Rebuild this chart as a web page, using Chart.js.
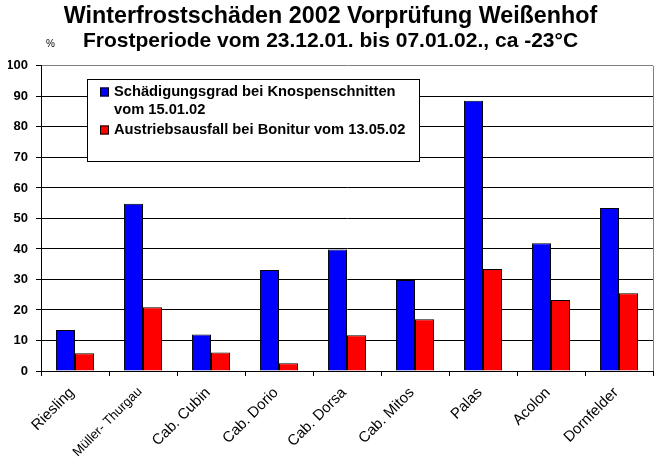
<!DOCTYPE html>
<html>
<head>
<meta charset="utf-8">
<script src="https://cdn.jsdelivr.net/npm/chart.js@4/dist/chart.umd.min.js"></script>
<style>
  body { margin: 0; background: #fff; }
  #wrap { width: 661px; height: 469px; }
</style>
</head>
<body>
<div id="wrap"><canvas id="frostchart"></canvas></div>
<script>
// Data
var sorten = ["Riesling", "Müller- Thurgau", "Cab. Cubin", "Cab. Dorio", "Cab. Dorsa", "Cab. Mitos", "Palas", "Acolon", "Dornfelder"];
var knospen = [13.4, 54.8, 12.0, 33.1, 39.8, 29.8, 88.6, 41.9, 53.4]; // Schädigungsgrad
var austrieb = [5.8, 20.9, 6.1, 2.5, 11.7, 17.0, 33.4, 23.3, 25.5]; // Austriebsausfall
var legendKnospen = ["Schädigungsgrad bei Knospenschnitten", "vom 15.01.02"];
var legendAustrieb = ["Austriebsausfall bei Bonitur vom 13.05.02"];

var FONT = "'Liberation Sans', Arial, sans-serif";

// legend box inside the plot, plus the "%" mark and the grey frame on the right
var extras = {
  id: "extras",
  afterDraw: function(chart) {
    var c = chart.ctx;
    var area = chart.chartArea;
    c.save();
    // grey right border of plot area
    c.strokeStyle = "#808080";
    c.lineWidth = 1;
    c.beginPath();
    c.moveTo(Math.round(area.right) + 0.5, area.top);
    c.lineTo(Math.round(area.right) + 0.5, area.bottom);
    c.stroke();

    // % unit
    c.fillStyle = "#000";
    c.font = "10px " + FONT;
    c.textAlign = "left";
    c.textBaseline = "middle";
    c.fillText("%", 46, 44);

    // legend
    var bx = 87, by = 79, bw = 332, bh = 82;
    c.fillStyle = "#fff";
    c.fillRect(bx, by, bw, bh);
    c.strokeStyle = "#000";
    c.strokeRect(bx + 0.5, by + 0.5, bw, bh);
    var items = [legendKnospen, legendAustrieb];
    var ys = [92, 130];
    c.font = "bold 14.7px " + FONT;
    items.forEach(function(lines, i) {
      var ds = chart.data.datasets[i];
      c.fillStyle = ds.backgroundColor;
      c.fillRect(100, ys[i] - 4.5, 9, 9);
      c.strokeStyle = "#000";
      c.strokeRect(100.5, ys[i] - 4, 8, 8);
      c.fillStyle = "#000";
      lines.forEach(function(t, j) {
        c.fillText(t, 114, ys[i] + j * 18);
      });
    });
    c.restore();
  }
};

var ctx = document.getElementById("frostchart").getContext("2d");

var frostChart = new Chart(ctx, {
  type: "bar",
  data: {
    labels: sorten,
    datasets: [
      {
        label: legendKnospen.join(" "),
        data: knospen,
        backgroundColor: "#0000FF",
        borderColor: "#000",
        borderWidth: 1,
        categoryPercentage: 0.56,
        barPercentage: 1.0
      },
      {
        label: legendAustrieb.join(" "),
        data: austrieb,
        backgroundColor: "#FF0000",
        borderColor: "#000",
        borderWidth: 1,
        categoryPercentage: 0.56,
        barPercentage: 1.0
      }
    ]
  },
  options: {
    responsive: true,
    maintainAspectRatio: false,
    animation: false,
    layout: { padding: { left: 8, right: 8, top: 0, bottom: 0 } },
    plugins: {
      legend: { display: false },
      tooltip: { enabled: false },
      title: {
        display: true,
        text: "Winterfrostschäden 2002 Vorprüfung Weißenhof",
        color: "#000",
        font: { family: FONT, size: 23.3, weight: "bold", lineHeight: 1.0 },
        padding: { top: 5, bottom: 0 }
      },
      subtitle: {
        display: true,
        text: "Frostperiode vom 23.12.01. bis 07.01.02., ca -23°C",
        color: "#000",
        font: { family: FONT, size: 21, weight: "bold", lineHeight: 1.2 },
        padding: { top: 0, bottom: 12.4 }
      }
    },
    scales: {
      x: {
        grid: {
          offset: true,
          drawOnChartArea: false,
          drawTicks: true,
          tickLength: 5,
          color: "#000"
        },
        border: { color: "#000", width: 1 },
        ticks: {
          color: "#000",
          minRotation: 45,
          maxRotation: 45,
          autoSkip: false,
          padding: 8,
          labelOffset: -3,
          font: function(c) {
            return { family: FONT, size: c.index === 1 ? 13 : 15 };
          }
        },
        afterFit: function(scale) { scale.height = 98; }
      },
      y: {
        min: 0,
        max: 100,
        ticks: {
          stepSize: 10,
          color: "#000",
          padding: 8,
          font: { family: FONT, size: 13, weight: "bold" }
        },
        grid: {
          color: function(c) { return c.tick && c.tick.value === 100 ? "#808080" : "#000"; },
          tickColor: "#000",
          tickLength: 5,
          drawTicks: true
        },
        border: { color: "#000", width: 1 },
        afterFit: function(scale) { scale.width = 33; }
      }
    }
  },
  plugins: [extras]
});
</script>
</body>
</html>
